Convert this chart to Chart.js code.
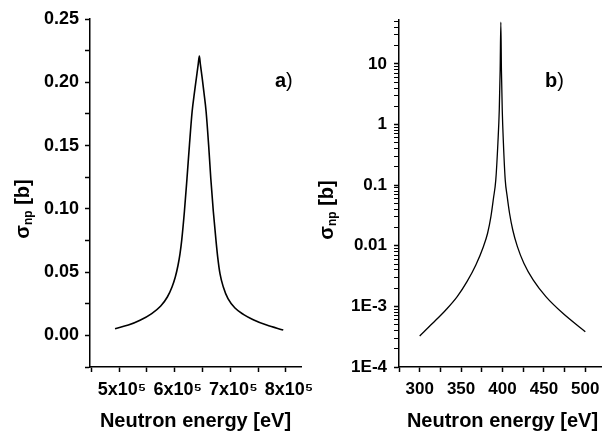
<!DOCTYPE html>
<html>
<head>
<meta charset="utf-8">
<script src="https://cdn.jsdelivr.net/npm/chart.js@4.4.0/dist/chart.umd.min.js"></script>
<style>
  html, body { margin: 0; padding: 0; background: #fff; overflow: hidden; }
  #wrap { position: relative; width: 700px; height: 434px; }
  canvas { position: absolute; top: 0; }
</style>
</head>
<body>
<div id="wrap">
  <canvas id="chartA" width="340" height="434" style="left:0px;width:340px;height:434px"></canvas>
  <canvas id="chartB" width="313" height="434" style="left:300px;width:313px;height:434px"></canvas>
</div>
<script>
// panel a) - linear cross section around the 6.4x10^5 eV resonance
var energyA = [492800, 516700, 537700, 558700, 574900, 586800, 595200, 601100, 606000, 609600, 612600, 617500, 622100,
               626500, 631300, 635600, 638900, 642300, 644300, 646100, 649500, 652500, 656500, 661000, 664900,
               669400, 674200, 677300, 681400, 687400, 695800, 708400, 723300, 741200, 765300, 795100];
var sigmaA  = [0.0053, 0.0081, 0.0119, 0.0172, 0.0232, 0.0303, 0.0382, 0.0461, 0.0554, 0.0646, 0.0751, 0.0981, 0.1240,
               0.1503, 0.1767, 0.1922, 0.2031, 0.2144, 0.2207, 0.2144, 0.2031, 0.1922, 0.1767, 0.1503, 0.1240,
               0.0981, 0.0751, 0.0619, 0.0488, 0.0382, 0.0290, 0.0216, 0.0166, 0.0124, 0.0081, 0.0042];

// panel b) - log cross section around 400 eV
var energyB = [300, 315.6, 331.5, 345.3, 357.1, 367.8, 376.9, 382.0, 386.0, 389.1, 391.9, 394.45, 396.1, 397.17,
               398, 398.7, 399.7, 401.1, 403.3, 405.7, 408.5, 412.4, 418.0, 425.8, 437.0, 452.4, 472.9, 500];
var sigmaB  = [3.25e-4, 5.26e-4, 8.73e-4, 1.45e-3, 2.56e-3, 4.82e-3, 9.66e-3, 0.0161, 0.0302, 0.0608, 0.122, 0.497,
               1.74, 8.0, 48.8, 8.0, 1.74, 0.497, 0.122, 0.0645, 0.0344, 0.0182, 9.66e-3, 5.14e-3, 2.73e-3,
               1.45e-3, 7.69e-4, 3.82e-4];

// tick values & labels
var ticksXA  = [450000, 500000, 550000, 600000, 650000, 700000, 750000, 800000];
var labelsXA = ['', '5x10\u2075', '', '6x10\u2075', '', '7x10\u2075', '', '8x10\u2075'];
var ticksYA  = [-0.025, 0, 0.025, 0.05, 0.075, 0.10, 0.125, 0.15, 0.175, 0.20, 0.225, 0.25];
var labelsYA = ['', '0.00', '', '0.05', '', '0.10', '', '0.15', '', '0.20', '', '0.25'];
var ticksXB  = [275, 300, 325, 350, 375, 400, 425, 450, 475, 500, 525];
var labelsXB = ['', '300', '', '350', '', '400', '', '450', '', '500', ''];
var decadesB = [1e-4, 1e-3, 1e-2, 1e-1, 1, 10];
var decadeLabelsB = ['1E-4', '1E-3', '0.01', '0.1', '1', '10'];

var FONT = "'Liberation Sans', Arial, sans-serif";

// minor log ticks 2..9 x each decade, up to the axis top
var ticksYB = [];
decadesB.forEach(function(d) {
  for (var k = 1; k <= 9; k++) {
    if (d * k <= 53) ticksYB.push(d * k);
  }
});

function isDecade(v) {
  for (var i = 0; i < decadesB.length; i++) {
    if (Math.abs(Math.log10(v) - Math.log10(decadesB[i])) < 1e-6) return i;
  }
  return -1;
}

// draws the sigma_np [b] axis title (with subscript) and the panel letter
var panelText = {
  id: 'panelText',
  afterDraw: function(chart, args, opts) {
    var ctx = chart.ctx;
    ctx.save();
    ctx.fillStyle = '#000';
    ctx.textBaseline = 'middle';

    var big = 'bold 20px ' + FONT;
    var small = 'bold 12px ' + FONT;
    ctx.font = big;
    var w1 = ctx.measureText('\u03c3').width;
    var w3 = ctx.measureText(' [b]').width;
    ctx.font = small;
    var w2 = ctx.measureText('np').width;
    var total = w1 + w2 + w3;

    ctx.translate(opts.titleX, opts.titleY);
    ctx.rotate(-Math.PI / 2);
    var x0 = -total / 2;
    ctx.textAlign = 'left';
    ctx.font = big;
    ctx.fillText('\u03c3', x0, 0);
    ctx.font = small;
    ctx.fillText('np', x0 + w1, 6);
    ctx.font = big;
    ctx.fillText(' [b]', x0 + w1 + w2, 0);
    ctx.restore();

    ctx.save();
    ctx.fillStyle = '#000';
    ctx.textBaseline = 'alphabetic';
    ctx.textAlign = 'left';
    ctx.font = 'bold 20px ' + FONT;
    ctx.fillText(opts.letter, opts.letterX, opts.letterY);
    var lw = ctx.measureText(opts.letter).width;
    ctx.font = '20px ' + FONT;
    ctx.fillText(')', opts.letterX + lw, opts.letterY);
    ctx.restore();
  }
};

function axisStyle() {
  return {
    grid: { display: true, drawOnChartArea: false, drawTicks: true, tickLength: 5, tickColor: '#000', tickWidth: 1.5 },
    border: { display: true, color: '#000', width: 1.5 }
  };
}

var tickFont = { family: FONT, size: 17, weight: 'bold' };
var titleFont = { family: FONT, size: 20, weight: 'bold' };

var ptsA = energyA.map(function(e, i) { return { x: e, y: sigmaA[i] }; });
var ptsB = energyB.map(function(e, i) { return { x: e, y: sigmaB[i] }; });

new Chart(document.getElementById('chartA'), {
  type: 'line',
  data: {
    datasets: [{
      data: ptsA,
      borderColor: '#000',
      borderWidth: 1.6,
      pointRadius: 0,
      fill: false,
      cubicInterpolationMode: 'monotone'
    }]
  },
  options: {
    responsive: false,
    animation: false,
    layout: { padding: { top: 19, right: 39, bottom: 0, left: 0 } },
    plugins: {
      legend: { display: false },
      tooltip: { enabled: false },
      panelText: { titleX: 23, titleY: 209, letter: 'a', letterX: 275, letterY: 87 }
    },
    scales: {
      x: Object.assign(axisStyle(), {
        type: 'linear',
        min: 447800,
        max: 827000,
        afterBuildTicks: function(scale) { scale.ticks = ticksXA.map(function(v) { return { value: v }; }); },
        afterFit: function(scale) { scale.height = 67; },
        ticks: {
          color: '#000', font: { family: FONT, size: 18, weight: 'bold' }, padding: 7, labelOffset: 3,
          maxRotation: 0, autoSkip: false,
          callback: function(v, i) { return labelsXA[i]; }
        },
        title: { display: true, text: 'Neutron energy [eV]', color: '#000', font: titleFont, padding: { top: 0, bottom: 1 } }
      }),
      y: Object.assign(axisStyle(), {
        type: 'linear',
        min: -0.025,
        max: 0.25,
        afterBuildTicks: function(scale) { scale.ticks = ticksYA.map(function(v) { return { value: v }; }); },
        afterFit: function(scale) { scale.width = 90; },
        ticks: {
          color: '#000', font: { family: FONT, size: 18, weight: 'bold' }, padding: 6, autoSkip: false,
          callback: function(v, i) { return labelsYA[i]; }
        }
      })
    }
  },
  plugins: [panelText]
});

new Chart(document.getElementById('chartB'), {
  type: 'line',
  data: {
    datasets: [{
      data: ptsB,
      borderColor: '#000',
      borderWidth: 1.3,
      pointRadius: 0,
      fill: false,
      cubicInterpolationMode: 'monotone'
    }]
  },
  options: {
    responsive: false,
    animation: false,
    layout: { padding: { top: 20, right: 0, bottom: 0, left: 0 } },
    plugins: {
      legend: { display: false },
      tooltip: { enabled: false },
      panelText: { titleX: 27, titleY: 210, letter: 'b', letterX: 245, letterY: 87 }
    },
    scales: {
      x: Object.assign(axisStyle(), {
        type: 'linear',
        min: 275,
        max: 525,
        afterBuildTicks: function(scale) { scale.ticks = ticksXB.map(function(v) { return { value: v }; }); },
        afterFit: function(scale) { scale.height = 67; },
        ticks: {
          color: '#000', font: tickFont, padding: 7, maxRotation: 0, autoSkip: false,
          callback: function(v, i) { return labelsXB[i]; }
        },
        title: { display: true, text: 'Neutron energy [eV]', color: '#000', font: titleFont, padding: { top: 0, bottom: 1 } }
      }),
      y: Object.assign(axisStyle(), {
        type: 'logarithmic',
        min: 1e-4,
        max: 53,
        afterBuildTicks: function(scale) { scale.ticks = ticksYB.map(function(v) { return { value: v }; }); },
        afterFit: function(scale) { scale.width = 99; },
        grid: {
          display: true, drawOnChartArea: false, drawTicks: true, tickLength: 5, tickColor: '#000',
          tickWidth: function(c) { return (c.tick && isDecade(c.tick.value) >= 0) ? 1.5 : 1; }
        },
        ticks: {
          color: '#000', font: tickFont, padding: 7, autoSkip: false,
          callback: function(v) { var k = isDecade(v); return k >= 0 ? decadeLabelsB[k] : ''; }
        }
      })
    }
  },
  plugins: [panelText]
});
</script>
</body>
</html>
